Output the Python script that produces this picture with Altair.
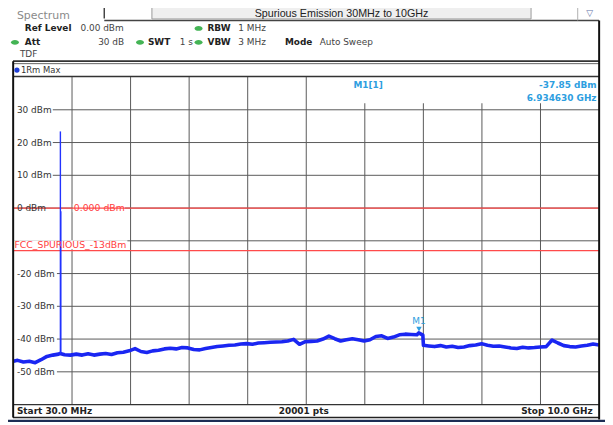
import altair as alt
import pandas as pd

# ---------------- data ----------------
start_ghz, stop_ghz = 0.03, 10.0
ref_top_dbm, ref_bottom_dbm = 40, -60
sweep_points = 20001

freq_ghz = [0.03, 0.10, 0.20, 0.30, 0.40, 0.50, 0.60, 0.70, 0.80, 0.826,
            0.90, 1.00, 1.10, 1.20, 1.30, 1.40, 1.50, 1.60, 1.70, 1.80,
            1.90, 2.00, 2.10, 2.20, 2.30, 2.40, 2.50, 2.60, 2.70, 2.80,
            2.90, 3.00, 3.10, 3.20, 3.30, 3.40, 3.50, 3.60, 3.70, 3.80,
            3.90, 4.00, 4.10, 4.20, 4.30, 4.40, 4.50, 4.60, 4.70, 4.80,
            4.90, 5.00, 5.10, 5.20, 5.30, 5.40, 5.50, 5.60, 5.70, 5.80,
            5.90, 6.00, 6.10, 6.20, 6.30, 6.40, 6.50, 6.60, 6.70, 6.80,
            6.90, 6.93, 7.00, 7.01, 7.10, 7.20, 7.30, 7.40, 7.50, 7.60,
            7.70, 7.80, 7.90, 8.00, 8.10, 8.20, 8.30, 8.40, 8.50, 8.60,
            8.70, 8.80, 8.90, 9.00, 9.10, 9.20, 9.30, 9.40, 9.50, 9.60,
            9.70, 9.80, 9.90, 10.0]
level_dbm = [-46.8, -46.5, -47.0, -46.8, -47.2, -46.3, -45.3, -44.9, -44.6, -44.4,
             -44.8, -44.9, -44.6, -44.9, -44.5, -44.9, -44.6, -44.4, -44.7, -44.2,
             -44.0, -43.6, -42.9, -43.8, -44.1, -43.6, -43.4, -43.0, -42.8, -43.0,
             -42.6, -42.7, -43.2, -43.3, -42.9, -42.6, -42.3, -42.1, -41.9, -41.8,
             -41.5, -41.4, -41.6, -41.2, -41.1, -41.0, -40.9, -40.8, -40.6, -40.1,
             -41.6, -40.8, -40.7, -40.6, -40.0, -39.1, -39.9, -40.6, -40.2, -39.9,
             -40.2, -40.6, -40.2, -39.2, -39.0, -39.8, -39.4, -38.7, -38.5, -38.6,
             -38.7, -38.1, -38.8, -41.9, -42.1, -42.3, -42.0, -42.4, -42.2, -42.6,
             -42.4, -42.0, -41.8, -41.4, -41.9, -42.2, -42.1, -42.4, -42.7, -42.9,
             -42.5, -42.7, -42.6, -42.4, -42.3, -40.3, -41.2, -42.0, -42.3, -42.4,
             -42.1, -41.9, -41.5, -41.8]

spike_freq_ghz = [0.829, 0.836]
spike_top_dbm = [23.4, -1.0]
spike_base_dbm = -44.4

grid_levels = [30, 20, 10, 0, -10, -20, -30, -40, -50]
tick_levels = [30, 20, 10, 0, -20, -30, -40, -50]
tick_labels = [f"{v} dBm" for v in tick_levels]

display_line_dbm = 0.0
limit_line_dbm = -13.0
limit_name = "FCC_SPURIOUS_-13dBm"

marker_freq_ghz = 6.934630
marker_level_dbm = -37.85

# ---------------- layout helpers ----------------
W, H = 590, 330
X0, Y0 = 13.5, 76.0          # screen position of the plot area


def px(x):
    return x - X0


def py(y):
    return y - Y0


one = pd.DataFrame({"k": [0]})
XS = alt.Scale(domain=[start_ghz, stop_ghz], nice=False, zero=False)
YS = alt.Scale(domain=[ref_bottom_dbm, ref_top_dbm], nice=False, zero=False)
FONT = "DejaVu Sans"


def hline(x1, x2, y, color, w):
    return alt.Chart(one).mark_rule(color=color, strokeWidth=w).encode(
        x=alt.value(px(x1)), x2=alt.value(px(x2)), y=alt.value(py(y)))


def vline(x, y1, y2, color, w):
    return alt.Chart(one).mark_rule(color=color, strokeWidth=w).encode(
        x=alt.value(px(x)), y=alt.value(py(y1)), y2=alt.value(py(y2)))


def label(text, x, y, size=9, weight="normal", color="#222", align="left", font=FONT):
    return alt.Chart(pd.DataFrame({"t": [text]})).mark_text(
        align=align, baseline="middle", fontSize=size, fontWeight=weight,
        color=color, font=font).encode(
        x=alt.value(px(x)), y=alt.value(py(y)), text="t:N")


def dot(x, y, color):
    return alt.Chart(one).mark_point(
        filled=True, shape="M -1 0 A 1 0.6 0 1 0 1 0 A 1 0.6 0 1 0 -1 0 Z",
        size=64, color=color, opacity=1, strokeWidth=0).encode(
        x=alt.value(px(x)), y=alt.value(py(y)))


layers = []

# ---------------- plot content ----------------
step = (stop_ghz - start_ghz) / 10
vgrid = pd.DataFrame({"f": [start_ghz + i * step for i in range(1, 10)]})
layers.append(alt.Chart(vgrid).mark_rule(color="#5a5a5a", strokeWidth=1).encode(
    x=alt.X("f:Q", scale=XS, axis=None), y=alt.value(0), y2=alt.value(H)))

hgrid = pd.DataFrame({
    "lvl": grid_levels,
    "x1": [0.70 if v > 0 else (0.77 if v < -10 else start_ghz) for v in grid_levels],
    "x2": [stop_ghz] * len(grid_levels)})
layers.append(alt.Chart(hgrid).mark_rule(color="#5a5a5a", strokeWidth=1).encode(
    x=alt.X("x1:Q", scale=XS, axis=None), x2="x2:Q",
    y=alt.Y("lvl:Q", scale=YS, axis=None)))

# white backing boxes for in-plot annotations
boxes = pd.DataFrame({
    "fa": [5.5, 1.04, start_ghz],
    "fb": [stop_ghz, 1.93, 1.97],
    "la": [32.0, -1.3, -9.8],
    "lb": [ref_top_dbm, 1.3, -12.6]})
layers.append(alt.Chart(boxes).mark_rect(color="white").encode(
    x=alt.X("fa:Q", scale=XS, axis=None), x2="fb:Q",
    y=alt.Y("la:Q", scale=YS, axis=None), y2="lb:Q"))

# display line and limit line
redlines = pd.DataFrame({"lvl": [display_line_dbm, limit_line_dbm]})
layers.append(alt.Chart(redlines).mark_rule(color="#ff4a4a", strokeWidth=1.3).encode(
    y=alt.Y("lvl:Q", scale=YS, axis=None), x=alt.value(0), x2=alt.value(W)))

# trace
trace = pd.DataFrame({"f": freq_ghz, "lvl": level_dbm})
layers.append(alt.Chart(trace).mark_line(color="#1a26f2", strokeWidth=3.6,
                                         strokeJoin="round").encode(
    x=alt.X("f:Q", scale=XS, axis=None), y=alt.Y("lvl:Q", scale=YS, axis=None)))

spike = pd.DataFrame({"f": spike_freq_ghz, "top": spike_top_dbm,
                      "base": [spike_base_dbm] * len(spike_freq_ghz)})
layers.append(alt.Chart(spike).mark_rule(color="#2233ff", strokeWidth=1.4).encode(
    x=alt.X("f:Q", scale=XS, axis=None), y=alt.Y("top:Q", scale=YS, axis=None),
    y2="base:Q"))

# marker
mk = pd.DataFrame({"f": [marker_freq_ghz], "lvl": [marker_level_dbm], "name": ["M1"]})
layers.append(alt.Chart(mk).mark_point(shape="triangle-down", filled=True, size=30,
                                       color="#2d9ee0", opacity=1, yOffset=-3).encode(
    x=alt.X("f:Q", scale=XS, axis=None), y=alt.Y("lvl:Q", scale=YS, axis=None)))
layers.append(alt.Chart(mk).mark_text(fontSize=9, font=FONT, color="#2d9ee0",
                                      yOffset=-11, baseline="middle").encode(
    x=alt.X("f:Q", scale=XS, axis=None), y=alt.Y("lvl:Q", scale=YS, axis=None),
    text="name:N"))

# level tick labels inside the plot
ticks = pd.DataFrame({"lvl": tick_levels, "t": tick_labels, "f": [start_ghz] * len(tick_levels)})
layers.append(alt.Chart(ticks).mark_text(align="left", baseline="middle", dx=3.5,
                                         fontSize=9, font=FONT, color="#333").encode(
    x=alt.X("f:Q", scale=XS, axis=None), y=alt.Y("lvl:Q", scale=YS, axis=None),
    text="t:N"))

# line labels
linelab = pd.DataFrame({"f": [1.04, start_ghz], "lvl": [display_line_dbm, -11.2],
                        "t": [f"{display_line_dbm:.3f} dBm", limit_name]})
layers.append(alt.Chart(linelab).mark_text(align="left", baseline="middle", dx=1,
                                           fontSize=9.4, font=FONT, color="#ff4040").encode(
    x=alt.X("f:Q", scale=XS, axis=None), y=alt.Y("lvl:Q", scale=YS, axis=None),
    text="t:N"))

# marker readout
layers.append(label("M1[1]", 356, 84, size=9, weight="bold", color="#2d9ee0"))
layers.append(label(f"{marker_level_dbm:.2f} dBm", 601, 84, size=9, weight="bold",
                    color="#2d9ee0", align="right"))
layers.append(label(f"{marker_freq_ghz:.6f} GHz", 601, 97, size=9, weight="bold",
                    color="#2d9ee0", align="right"))

# ---------------- frame ----------------
layers.append(hline(105, 603.5, 19, "#444", 1.5))
layers.append(vline(105, 4, 17, "#444", 1.5))
layers.append(vline(582, 4, 19, "#b0b0b0", 1))
layers.append(hline(13, 604, 60, "#333", 1.8))
layers.append(hline(13, 604, 62.5, "#666", 1))
layers.append(hline(13, 604, 75.5, "#333", 1.5))
layers.append(hline(13, 604, 406, "#333", 1.2))
layers.append(hline(13, 604, 419, "#222", 1.5))
layers.append(hline(0, 620, 422.5, "#1d2d55", 2.2))
layers.append(vline(13.2, 60, 419, "#111", 2))
layers.append(vline(603.6, 19, 421, "#111", 2))

# ---------------- header ----------------
layers.append(alt.Chart(one).mark_rect(fill="#efefef", stroke="#9a9a9a", strokeWidth=1).encode(
    x=alt.value(px(153)), x2=alt.value(px(535)), y=alt.value(py(2)), y2=alt.value(py(17.5))))
layers.append(label("Spurious Emission 30MHz to 10GHz", 344, 13, size=10.8,
                    color="#222", align="center", font="Liberation Sans"))
layers.append(label("Spectrum", 17, 14.5, size=11, color="#8a8a8a"))
layers.append(label("\u25bd", 594, 12, size=9, color="#6070a8", align="center"))

layers.append(label("Ref Level", 25, 27, weight="bold"))
layers.append(label("0.00 dBm", 81, 27, color="#444"))
layers.append(dot(200, 27, "#44b455"))
layers.append(label("RBW", 209, 27, weight="bold"))
layers.append(label("1 MHz", 240, 27, color="#444"))

layers.append(dot(15, 41, "#44b455"))
layers.append(label("Att", 25, 41, weight="bold"))
layers.append(label("30 dB", 125, 41, color="#444", align="right"))
layers.append(dot(141, 41, "#44b455"))
layers.append(label("SWT", 149, 41, weight="bold"))
layers.append(label("1 s", 181, 41, color="#444"))
layers.append(dot(200, 41, "#44b455"))
layers.append(label("VBW", 209, 41, weight="bold"))
layers.append(label("3 MHz", 240, 41, color="#444"))
layers.append(label("Mode", 287, 41, weight="bold"))
layers.append(label("Auto Sweep", 322, 41, color="#444"))
layers.append(label("TDF", 20, 53, color="#444"))

layers.append(alt.Chart(one).mark_point(filled=True, shape="circle", size=28,
                                        color="#1f3fd8", opacity=1).encode(
    x=alt.value(px(17)), y=alt.value(py(69))))
layers.append(label("1Rm Max", 21, 69, size=8.5, color="#333"))

# ---------------- footer ----------------
layers.append(label(f"Start {start_ghz * 1000:.1f} MHz", 17, 413, weight="bold"))
layers.append(label(f"{sweep_points} pts", 306, 413, weight="bold", align="center"))
layers.append(label(f"Stop {stop_ghz:.1f} GHz", 597, 413, weight="bold", align="right"))

chart = alt.layer(*layers).properties(
    width=W, height=H,
    padding={"left": X0 - 8, "top": Y0 - 8, "right": 6, "bottom": 16},
    autosize=alt.AutoSizeParams(type="none"),
    background="white",
).configure_view(stroke=None)

chart.save("out.html", embed_options={"renderer": "svg", "actions": False})
